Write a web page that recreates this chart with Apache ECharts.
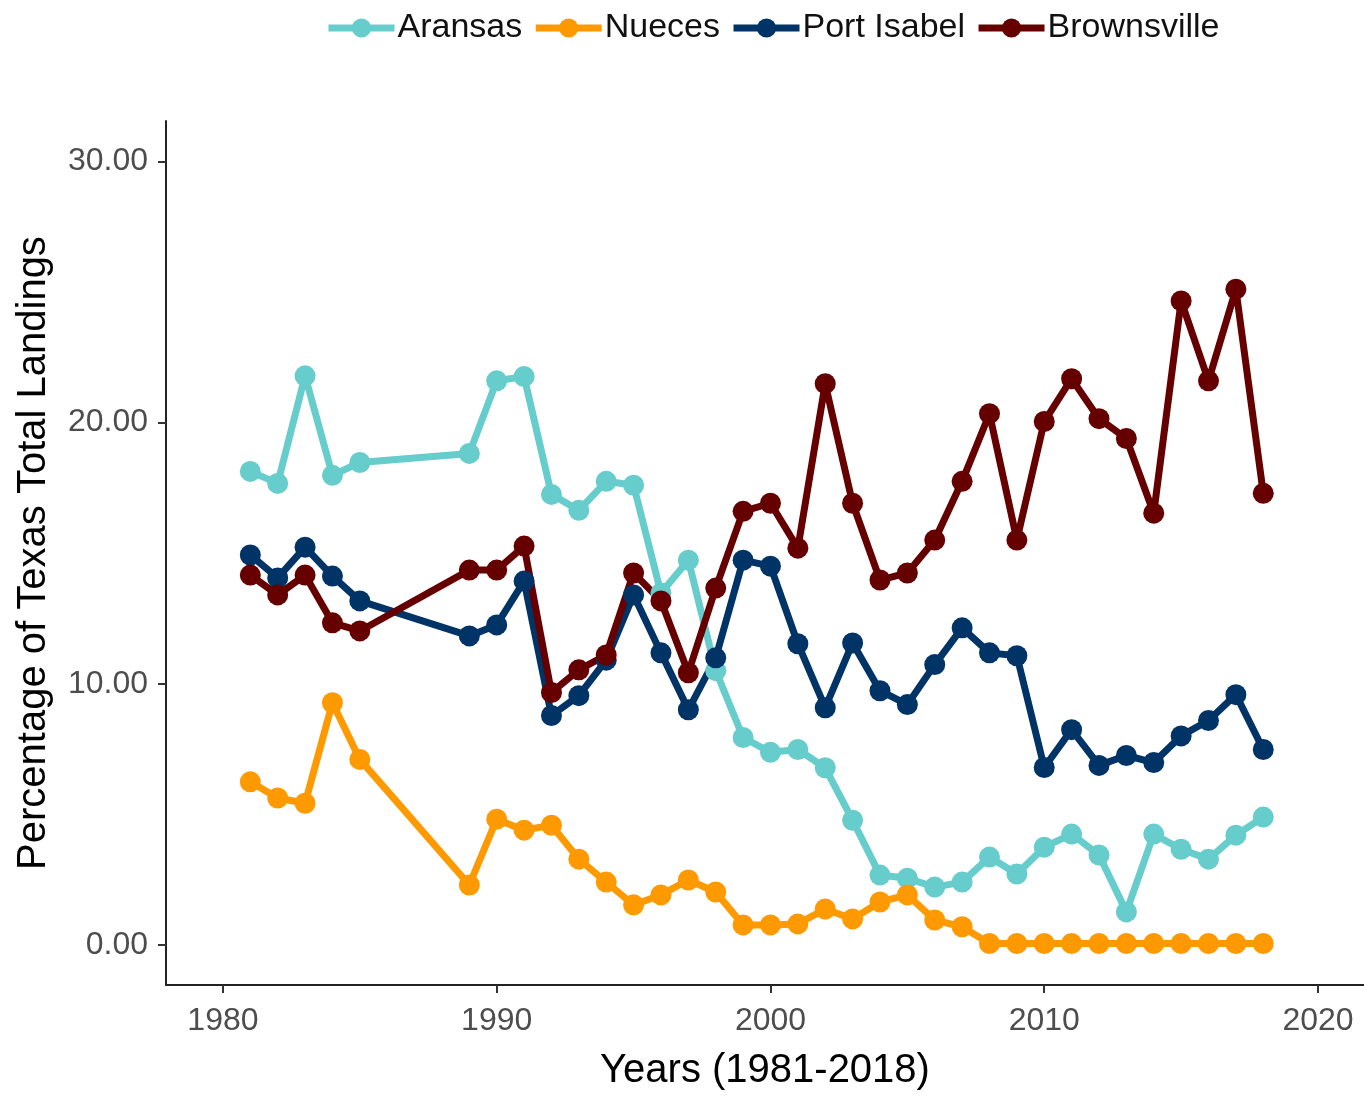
<!DOCTYPE html>
<html>
<head>
<meta charset="utf-8">
<script src="https://cdn.jsdelivr.net/npm/echarts@6/dist/echarts.min.js"></script>
<style>
html,body{margin:0;padding:0;background:#fff;}
#chart{width:1364px;height:1096px;}
</style>
</head>
<body>
<div id="chart"></div>
<script>
const years = [1981,1982,1983,1984,1985,1989,1990,1991,1992,1993,1994,1995,1996,1997,1998,1999,2000,2001,2002,2003,2004,2005,2006,2007,2008,2009,2010,2011,2012,2013,2014,2015,2016,2017,2018];
const aransas = [18.13,17.67,21.79,17.98,18.47,18.82,21.6,21.76,17.25,16.64,17.75,17.6,13.47,14.73,10.5,7.94,7.37,7.48,6.78,4.77,2.67,2.55,2.21,2.4,3.36,2.71,3.74,4.24,3.44,1.26,4.24,3.66,3.28,4.2,4.89];
const nueces = [6.24,5.62,5.42,9.27,7.1,2.29,4.81,4.39,4.58,3.28,2.4,1.53,1.91,2.48,2.02,0.76,0.76,0.8,1.37,0.99,1.64,1.91,0.95,0.69,0.05,0.05,0.05,0.05,0.05,0.05,0.05,0.05,0.05,0.05,0.05];
const portIsabel = [14.93,14.05,15.23,14.12,13.17,11.83,12.25,13.93,8.78,9.54,10.9,13.4,11.18,9.0,10.99,14.73,14.5,11.53,9.08,11.56,9.73,9.2,10.73,12.14,11.18,11.07,6.79,8.24,6.87,7.25,6.98,8.0,8.59,9.58,7.48];
const brownsville = [14.16,13.4,14.16,12.33,12.02,14.35,14.35,15.27,9.66,10.53,11.1,14.24,13.17,10.42,13.66,16.6,16.91,15.19,21.49,16.91,13.97,14.24,15.5,17.75,20.34,15.5,20.04,21.68,20.15,19.39,16.53,24.66,21.6,25.11,17.29];
const seriesNames = ['Aransas','Nueces','Port Isabel','Brownsville'];
const seriesColors = ['#66CCCC','#FF9900','#003366','#660000'];
const xTicks = [1980,1990,2000,2010,2020];
const yTicks = [0,10,20,30];

const allData = [aransas, nueces, portIsabel, brownsville];
const FONT = 'Liberation Sans, Arial, sans-serif';

const chart = echarts.init(document.getElementById('chart'));
chart.setOption({
  animation: false,
  backgroundColor: '#fff',
  textStyle: { fontFamily: FONT },
  legend: {
    top: 6,
    left: 320,
    itemWidth: 66,
    itemHeight: 24,
    itemGap: 10,
    lineStyle: { width: 7 },
    textStyle: { fontSize: 34, color: '#111', fontFamily: FONT, padding: [0, 0, 0, -2] },
    data: seriesNames
  },
  grid: { left: 166, top: 121, right: 0, bottom: 105, containLabel: false },
  xAxis: {
    type: 'value',
    min: 1977.92,
    max: 2021.68,
    name: 'Years (1981-2018)',
    nameLocation: 'middle',
    nameGap: 66,
    nameTextStyle: { fontSize: 40, color: '#000', fontFamily: FONT },
    axisLine: { show: true, onZero: false, lineStyle: { color: '#222', width: 2 } },
    axisTick: { show: true, length: 8, customValues: xTicks, lineStyle: { color: '#333', width: 2 } },
    axisLabel: { customValues: xTicks, fontSize: 32, color: '#4d4d4d', margin: 20, fontFamily: FONT,
      formatter: v => String(v) },
    splitLine: { show: false }
  },
  yAxis: {
    type: 'value',
    min: -1.54,
    max: 31.55,
    name: 'Percentage of Texas Total Landings',
    nameLocation: 'middle',
    nameGap: 112,
    nameTextStyle: { fontSize: 40, color: '#000', fontFamily: FONT },
    axisLine: { show: true, onZero: false, lineStyle: { color: '#222', width: 2 } },
    axisTick: { show: true, length: 8, customValues: yTicks, lineStyle: { color: '#333', width: 2 } },
    axisLabel: { customValues: yTicks, fontSize: 32, color: '#4d4d4d', margin: 18, fontFamily: FONT,
      formatter: v => Number(v).toFixed(2) },
    splitLine: { show: false }
  },
  series: seriesNames.map((name, i) => ({
    name,
    type: 'line',
    data: years.map((y, j) => [y, allData[i][j]]),
    symbol: 'circle',
    symbolSize: 21,
    showAllSymbol: true,
    lineStyle: { width: 7, color: seriesColors[i] },
    itemStyle: { color: seriesColors[i] },
    color: seriesColors[i]
  }))
});
</script>
</body>
</html>
